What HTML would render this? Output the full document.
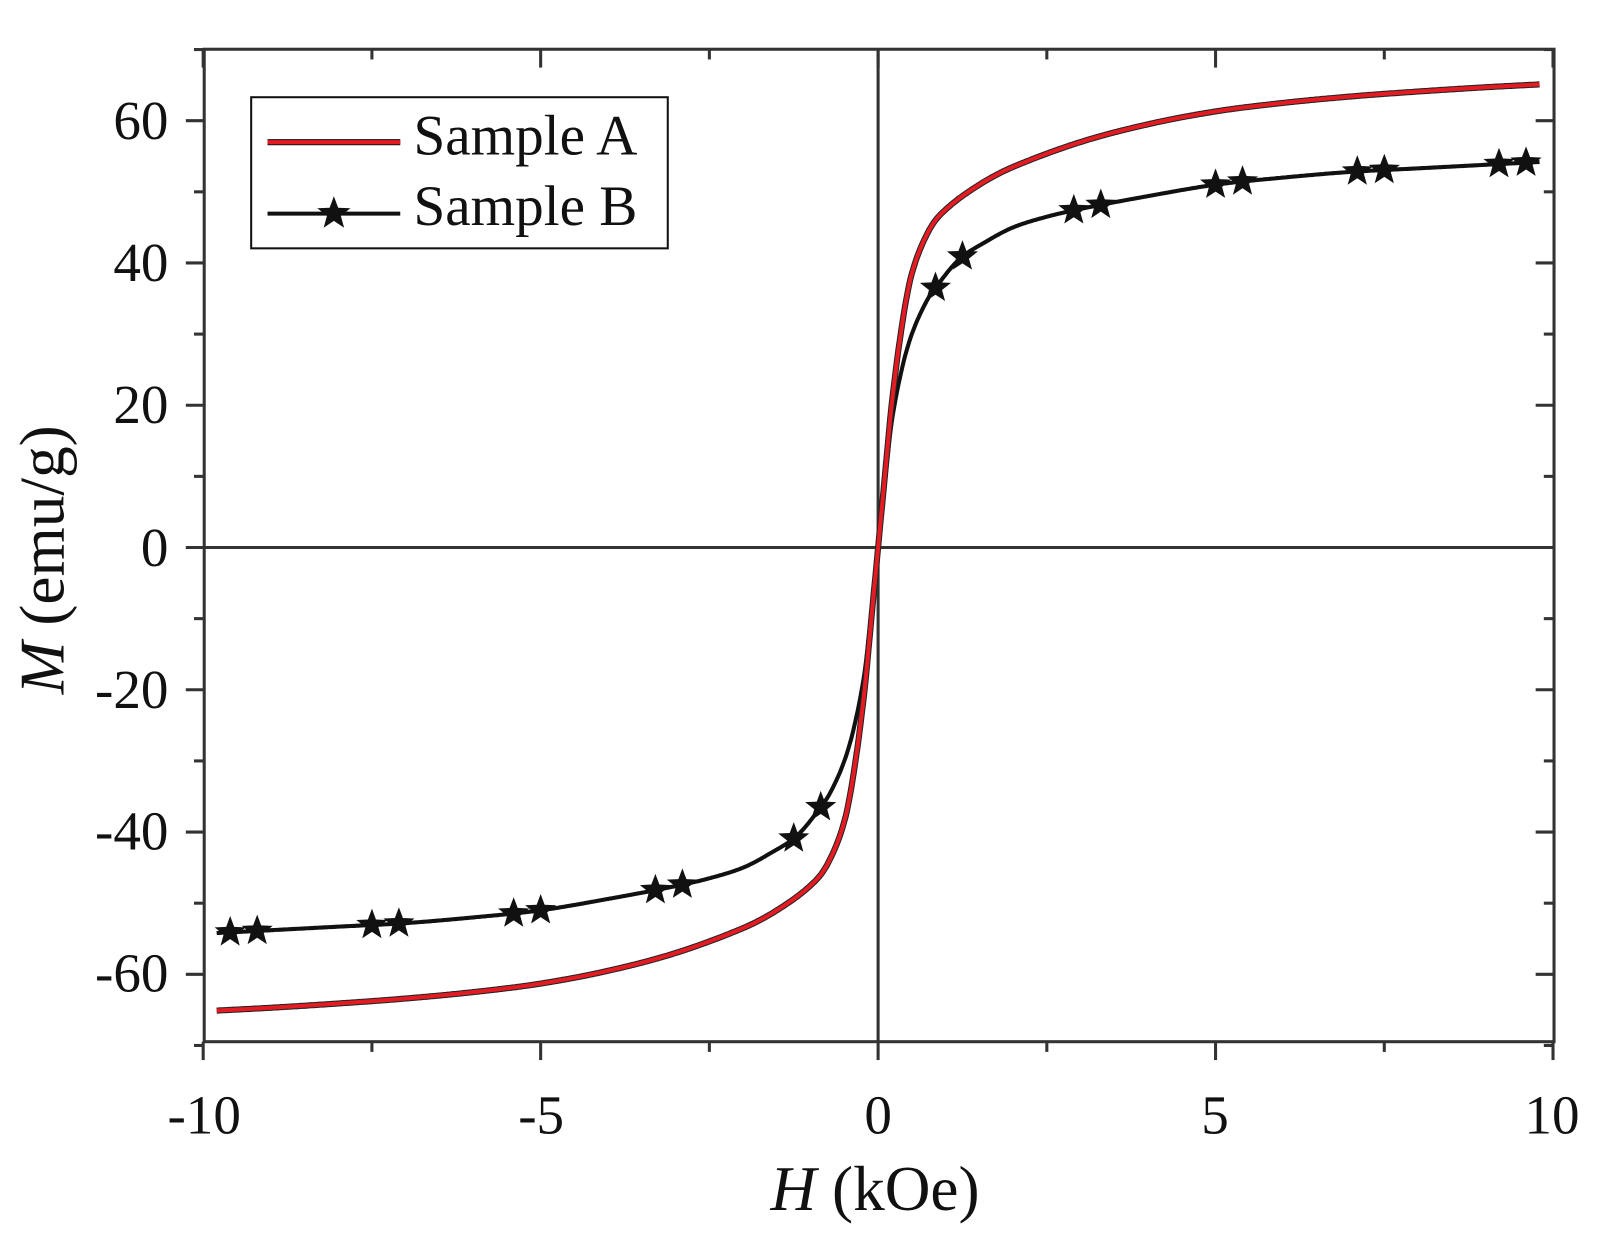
<!DOCTYPE html>
<html><head><meta charset="utf-8"><style>
html,body{margin:0;padding:0;background:#fff;}
svg{display:block;}
text{font-family:"Liberation Serif",serif;fill:#111;}
</style></head><body>
<svg id="s" width="1601" height="1240" viewBox="0 0 1568 1214" xmlns="http://www.w3.org/2000/svg">
<rect width="1568" height="1214" fill="#fff"/>
<g id="ax" stroke="#333" stroke-width="3" fill="none">
<rect x="200" y="48" width="1322" height="972"/>
<line x1="860" y1="48" x2="860" y2="1020"/>
<line x1="200" y1="536" x2="1522" y2="536"/>
</g>
<g id="ticks" stroke="#333" stroke-width="3"></g>
<g id="curves"></g>
<g font-size="54" text-anchor="end">
<text x="165" y="136">60</text><text x="165" y="275">40</text><text x="165" y="414">20</text>
<text x="165" y="554">0</text><text x="165" y="693">-20</text><text x="165" y="832">-40</text><text x="165" y="971">-60</text>
</g>
<g font-size="54" text-anchor="middle">
<text x="200" y="1110">-10</text><text x="530" y="1110">-5</text><text x="860" y="1110">0</text>
<text x="1190" y="1110">5</text><text x="1520" y="1110">10</text>
</g>
<text x="857" y="1185" font-size="62" text-anchor="middle"><tspan font-style="italic">H</tspan> (kOe)</text>
<text transform="translate(62,548) rotate(-90)" font-size="62" text-anchor="middle"><tspan font-style="italic">M</tspan> (emu/g)</text>
<rect x="246" y="95" width="408" height="148" fill="#fff" stroke="#111" stroke-width="2"/>
<line x1="262" y1="139" x2="392" y2="139" stroke="#111" stroke-width="6"/>
<line x1="262" y1="139" x2="392" y2="139" stroke="#e31c24" stroke-width="4"/>
<line x1="262" y1="209" x2="392" y2="209" stroke="#111" stroke-width="4"/>
<text x="405" y="151" font-size="56">Sample A</text>
<text x="405" y="220" font-size="56">Sample B</text>
<g id="legstar"></g>
</svg>
<script>
function X(h){return 860+h*66.1;}
function Y(m){return 536-m*6.967;}
var t=document.getElementById('ticks'),ts="";
for(var m=-70;m<=70;m+=10){var y=Y(m);var len=(m%20==0)?18:10;
 ts+='<line x1="'+(200-len)+'" y1="'+y+'" x2="200" y2="'+y+'"/>';
 ts+='<line x1="1522" y1="'+y+'" x2="'+(1522-len)+'" y2="'+y+'"/>';}
for(var h=-10;h<=10;h+=2.5){var x=X(h);var len=(h%5==0)?18:10;
 ts+='<line x1="'+x+'" y1="1020" x2="'+x+'" y2="'+(1020+len)+'"/>';
 ts+='<line x1="'+x+'" y1="48" x2="'+x+'" y2="'+(48+len)+'"/>';}
t.innerHTML=ts;
var A=[[0,0],[0.1,10],[0.2,20],[0.35,31],[0.5,38.5],[0.75,44.5],[1,47.5],[1.5,51],[2,53.5],[3,57],[4,59.5],[5,61.3],[6,62.5],[7,63.4],[8,64.1],[9,64.7],[9.8,65.1]];
var B=[[0,0],[0.1,9],[0.2,17.5],[0.35,25],[0.5,30],[0.7,34.3],[0.85,36.5],[1.2,40.5],[1.6,43],[2,45],[2.5,46.5],[3,47.6],[4,49.4],[5,51],[6,52],[7,52.8],[8,53.3],[9,53.8],[9.8,54.2]];
function full(P){var r=[];for(var i=P.length-1;i>0;i--)r.push([-P[i][0],-P[i][1]]);return r.concat(P);}
function interp(P,h){for(var i=0;i<P.length-1;i++){if(h>=P[i][0]&&h<=P[i+1][0]){
 var p0=P[Math.max(i-1,0)],p1=P[i],p2=P[i+1],p3=P[Math.min(i+2,P.length-1)];
 var t=(h-p1[0])/(p2[0]-p1[0]);
 var m1=(p2[1]-p0[1])/(p2[0]-p0[0]||1)*(p2[0]-p1[0]);var m2=(p3[1]-p1[1])/(p3[0]-p1[0]||1)*(p2[0]-p1[0]);
 var t2=t*t,t3=t2*t;return (2*t3-3*t2+1)*p1[1]+(t3-2*t2+t)*m1+(-2*t3+3*t2)*p2[1]+(t3-t2)*m2;}}return 0;}
function path(P){P=full(P);var d="";for(var h=-9.8;h<=9.8001;h+=0.02){d+=(d?"L":"M")+X(h).toFixed(1)+","+Y(interp(P,h)).toFixed(1);}return [d,P];}
var a=path(A),b=path(B);
function star(cx,cy,r){var s="";for(var i=0;i<10;i++){var rr=i%2?r*0.42:r;var an=-Math.PI/2+i*Math.PI/5;s+=(i?"L":"M")+(cx+rr*Math.cos(an)).toFixed(1)+","+(cy+rr*Math.sin(an)).toFixed(1);}return s+"Z";}
var c='<path d="'+b[0]+'" fill="none" stroke="#111" stroke-width="4"/>';
var hs=[0.85,1.25,2.9,3.3,5.0,5.4,7.1,7.5,9.2,9.6],sd="";
hs.forEach(function(h){sd+=star(X(h),Y(interp(b[1],h)),16)+star(X(-h),Y(interp(b[1],-h)),16);});
c+='<path d="'+sd+'" fill="#111"/>';
c+='<path d="'+a[0]+'" fill="none" stroke="#222" stroke-width="6"/>';
c+='<path d="'+a[0]+'" fill="none" stroke="#e31c24" stroke-width="4"/>';
document.getElementById('curves').innerHTML=c;
document.getElementById('legstar').innerHTML='<path d="'+star(327,209,17)+'" fill="#111"/>';
</script>
</body></html>
